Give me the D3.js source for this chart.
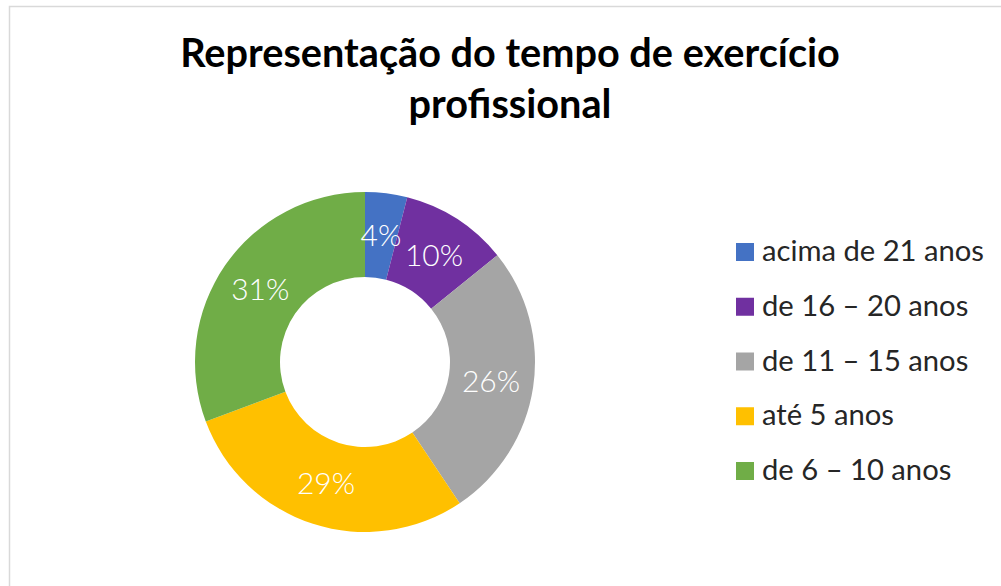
<!DOCTYPE html>
<html>
<head>
<meta charset="utf-8">
<script src="https://cdn.jsdelivr.net/npm/d3@7"></script>
<style>
  body { margin: 0; background: #fff; }
  svg { display: block; }
</style>
</head>
<body>
<div id="chart"></div>
<script>
// chart data (shares, in %)
const categories = ["acima de 21 anos", "de 16 – 20 anos", "de 11 – 15 anos", "até 5 anos", "de 6 – 10 anos"];
const values = [4.0, 10.2, 26.4, 28.7, 30.7];
const colors = ["#4472C4", "#7030A0", "#A5A5A5", "#FFC000", "#70AD47"];
const titleLines = ["Representação do tempo de exercício", "profissional"];

const width = 1001, height = 586;
const font = "Lato, 'Open Sans', sans-serif";

const svg = d3.select("#chart").append("svg")
    .attr("width", width)
    .attr("height", height);

// chart area border (only top and left edge are visible)
svg.append("rect")
    .attr("x", 9.5)
    .attr("y", 6.5)
    .attr("width", 1100)
    .attr("height", 700)
    .attr("fill", "none")
    .attr("stroke", "#d9d9d9")
    .attr("stroke-width", 1.5);

// fit a text element to a target width by adjusting font size
function fitWidth(sel, target) {
    let node = sel.node();
    let size = parseFloat(sel.attr("font-size"));
    let w = node.getComputedTextLength();
    sel.attr("font-size", size * target / w);
}

// title
let t1 = svg.append("text")
    .attr("x", 510).attr("y", 67)
    .attr("text-anchor", "middle")
    .attr("font-family", font)
    .attr("font-weight", "bold")
    .attr("font-size", 36)
    .attr("fill", "#000")
    .text(titleLines[0]);
fitWidth(t1, 660);
svg.append("text")
    .attr("x", 510).attr("y", 118)
    .attr("text-anchor", "middle")
    .attr("font-family", font)
    .attr("font-weight", "bold")
    .attr("font-size", t1.attr("font-size"))
    .attr("fill", "#000")
    .text(titleLines[1]);

// donut
const cx = 365, cy = 362, outerR = 170, innerR = 85;
const data = categories.map((c, i) => ({name: c, value: values[i], color: colors[i]}));

const pie = d3.pie().value(d => d.value).sort(null);
const arc = d3.arc().innerRadius(innerR).outerRadius(outerR);
const total = d3.sum(values);

const g = svg.append("g").attr("transform", `translate(${cx},${cy})`);

g.selectAll("path")
    .data(pie(data))
    .enter().append("path")
    .attr("d", arc)
    .attr("fill", d => d.data.color);

g.selectAll("text.label")
    .data(pie(data))
    .enter().append("text")
    .attr("class", "label")
    .attr("transform", d => `translate(${arc.centroid(d)})`)
    .attr("text-anchor", "middle")
    .attr("dy", "0.36em")
    .attr("font-family", font)
    .attr("font-weight", 300)
    .attr("font-size", 30)
    .attr("fill", "#fff")
    .text(d => Math.round(d.data.value / total * 100) + "%");

// legend
const ly = d3.scalePoint().domain(categories).range([252, 471]);
const legend = svg.append("g");
const items = legend.selectAll("g")
    .data(data)
    .enter().append("g")
    .attr("transform", d => `translate(736,${ly(d.name)})`);

items.append("rect")
    .attr("x", 0).attr("y", -9)
    .attr("width", 18).attr("height", 18)
    .attr("fill", d => d.color);

let ltexts = items.append("text")
    .attr("x", 26).attr("y", 9)
    .attr("font-family", font)
    .attr("font-size", 26)
    .attr("fill", "#262626")
    .text(d => d.name);
// size legend font so the first entry matches the reference width
let first = d3.select(ltexts.nodes()[0]);
let w0 = first.node().getComputedTextLength();
ltexts.attr("font-size", 26 * 222 / w0);
</script>
</body>
</html>
